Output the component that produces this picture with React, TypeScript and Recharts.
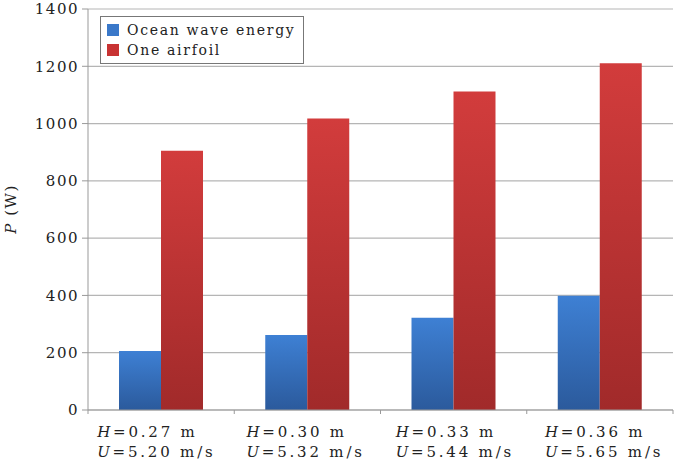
import React from "react";
import {
  BarChart,
  Bar,
  XAxis,
  YAxis,
  CartesianGrid,
  Legend,
} from "recharts";

// wave height / wind speed cases
const waveHeights = ["0.27", "0.30", "0.33", "0.36"];
const windSpeeds = ["5.20", "5.32", "5.44", "5.65"];

// power output in W
const oceanWave = [206, 262, 322, 399];
const oneAirfoil = [905, 1018, 1112, 1211];

const yTicks = [0, 200, 400, 600, 800, 1000, 1200, 1400];

const WIDTH = 677;
const HEIGHT = 462;
const MARGIN = { top: 9, right: 4, bottom: 0, left: 0 };
const Y_AXIS_W = 88;
const X_AXIS_H = 52;
const PLOT_W = WIDTH - MARGIN.left - MARGIN.right - Y_AXIS_W;
const BAND = PLOT_W / waveHeights.length;

const FONT = "'DejaVu Serif', serif";
const TEXT = "#222";

const data = waveHeights.map((h, i) => ({
  h,
  u: windSpeeds[i],
  ocean: oceanWave[i],
  airfoil: oneAirfoil[i],
}));

const legendItems = [
  { label: "Ocean wave energy", color: "#3a78c9" },
  { label: "One airfoil", color: "#c83333" },
];

// two-line category label plus separator ticks at the band edges
const CategoryTick = (props: any) => {
  const { x, y, payload, index } = props;
  const row = data[index] || data.find((d) => d.h === payload.value);
  const left = x - BAND / 2;
  const tx = x - 64 + index * 3;
  return (
    <g>
      <line x1={left} y1={y - 8} x2={left} y2={y - 4} stroke="#999" />
      {index === data.length - 1 && (
        <line x1={left + BAND} y1={y - 8} x2={left + BAND} y2={y - 4} stroke="#999" />
      )}
      <text x={tx} y={y + 19} fill={TEXT} fontFamily={FONT} fontSize={15} letterSpacing={2.8}>
        <tspan fontStyle="italic">H</tspan>
        <tspan>{`=${row.h} m`}</tspan>
      </text>
      <text x={tx} y={y + 39} fill={TEXT} fontFamily={FONT} fontSize={15} letterSpacing={2.8}>
        <tspan fontStyle="italic">U</tspan>
        <tspan>{`=${row.u} m/s`}</tspan>
      </text>
    </g>
  );
};

const YLabel = () => (
  <text
    transform="translate(16, 209) rotate(-90)"
    textAnchor="middle"
    fill={TEXT}
    fontFamily={FONT}
    fontSize={15}
    letterSpacing={1.5}
  >
    <tspan fontStyle="italic">P</tspan>
    <tspan> (W)</tspan>
  </text>
);

const LegendBox = () => (
  <div
    style={{
      border: "1.5px solid #777",
      background: "#fff",
      width: 204,
      padding: "3px 0 3px 6px",
      fontFamily: FONT,
      fontSize: 14,
      letterSpacing: 1.7,
      color: TEXT,
      lineHeight: "20px",
      boxSizing: "border-box",
    }}
  >
    {legendItems.map((item) => (
      <div key={item.label} style={{ display: "flex", alignItems: "center" }}>
        <span
          style={{
            display: "inline-block",
            width: 12,
            height: 12,
            background: item.color,
            marginRight: 8,
          }}
        />
        {item.label}
      </div>
    ))}
  </div>
);

export default function App() {
  return (
    <div style={{ position: "absolute", left: 0, top: 0, background: "#fff" }}>
      <BarChart
        width={WIDTH}
        height={HEIGHT}
        data={data}
        margin={MARGIN}
        barGap={0}
        barSize={42}
      >
        <defs>
          <linearGradient id="blueFill" x1="0" y1="0" x2="0" y2="1">
            <stop offset="0%" stopColor="#3e80d4" />
            <stop offset="100%" stopColor="#2b5a9c" />
          </linearGradient>
          <linearGradient id="redFill" x1="0" y1="0" x2="0" y2="1">
            <stop offset="0%" stopColor="#d23c3c" />
            <stop offset="100%" stopColor="#a12a2a" />
          </linearGradient>
        </defs>
        <CartesianGrid vertical={false} stroke="#b5b5b5" strokeWidth={1.2} />
        <XAxis
          dataKey="h"
          stroke="#999"
          tickLine={false}
          tick={<CategoryTick />}
          interval={0}
          height={X_AXIS_H}
        />
        <YAxis
          width={Y_AXIS_W}
          domain={[0, 1400]}
          ticks={yTicks}
          interval={0}
          stroke="#999"
          tickSize={6}
          tickMargin={3}
          tick={{ fill: TEXT, fontFamily: FONT, fontSize: 15, letterSpacing: 1.5 }}
          label={<YLabel />}
        />
        <Legend
          layout="vertical"
          align="center"
          verticalAlign="middle"
          content={<LegendBox />}
          wrapperStyle={{ top: 16, left: 100, width: "auto", height: "auto" }}
        />
        <Bar dataKey="ocean" name="Ocean wave energy" fill="url(#blueFill)" isAnimationActive={false} />
        <Bar dataKey="airfoil" name="One airfoil" fill="url(#redFill)" isAnimationActive={false} />
      </BarChart>
    </div>
  );
}
